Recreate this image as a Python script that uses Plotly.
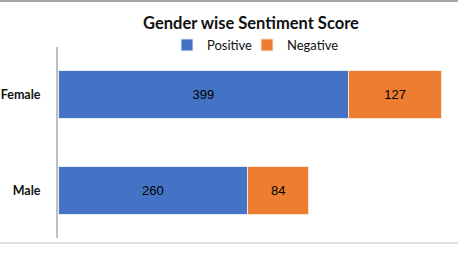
import plotly.graph_objects as go

categories = ["Male", "Female"]
positive = [260, 399]
negative = [84, 127]

W, H = 458, 254
L, R, T, B = 58, 0, 47, 16
ph = H - T - B

fig = go.Figure()
fig.add_trace(go.Bar(
    y=categories, x=positive, name="Positive", orientation="h", legend="legend",
    marker=dict(color="#4472C4", line=dict(color="#E6ECF7", width=1)),
    text=[str(v) for v in positive], textposition="inside", insidetextanchor="middle",
    textfont=dict(family="Liberation Sans, Arial", size=13, color="black"),
))
fig.add_trace(go.Bar(
    y=categories, x=negative, name="Negative", orientation="h", legend="legend2",
    marker=dict(color="#ED7D31", line=dict(color="#FBE5D6", width=1)),
    text=[str(v) for v in negative], textposition="inside", insidetextanchor="middle",
    textfont=dict(family="Liberation Sans, Arial", size=13, color="black"),
))

legend_common = dict(orientation="h", xanchor="left", xref="container",
                     y=1 - 45 / H, yanchor="middle", yref="container", itemwidth=30,
                     font=dict(family="Lato, Open Sans, sans-serif", size=13, color="#111111"),
                     bgcolor="rgba(0,0,0,0)")

fig.update_layout(
    width=W, height=H,
    margin=dict(l=L, r=R, t=T, b=B, autoexpand=False),
    barmode="stack", bargap=0.5,
    plot_bgcolor="white", paper_bgcolor="white",
    font=dict(family="Lato, Open Sans, sans-serif", size=12, color="#000000"),
    title=dict(text="<b>Gender wise Sentiment Score</b>", x=251 / W, xref="container",
               xanchor="center", y=1 - 23 / H, yanchor="middle", yref="container",
               font=dict(family="Lato, Open Sans, sans-serif", size=16.5, color="#111111")),
    legend=dict(x=167 / W, **legend_common),
    legend2=dict(x=247 / W, **legend_common),
    xaxis=dict(range=[0, (W - L - R) / 0.729], visible=False, showgrid=False, zeroline=False,
               automargin=False),
    yaxis=dict(range=[-0.5, 1.5], showline=True, linecolor="#BFBFBF", linewidth=2,
               showgrid=False, ticks="", ticklabelstandoff=13, automargin=False,
               tickfont=dict(family="Lato, Open Sans, sans-serif", size=12.5, color="#111111",
                             weight="bold")),
    showlegend=True,
)

fig.add_shape(type="line", xref="paper", yref="paper", x0=-L / (W - L), x1=1,
              y0=(H - B - 1) / ph, y1=(H - B - 1) / ph, line=dict(color="#A6A6A6", width=2))
fig.add_shape(type="line", xref="paper", yref="paper", x0=-L / (W - L), x1=1,
              y0=(H - B - 243) / ph, y1=(H - B - 243) / ph, line=dict(color="#E0E0E0", width=2))

fig.write_html("out.html", config={"displayModeBar": False},
               post_script="document.body.style.margin='0';")
